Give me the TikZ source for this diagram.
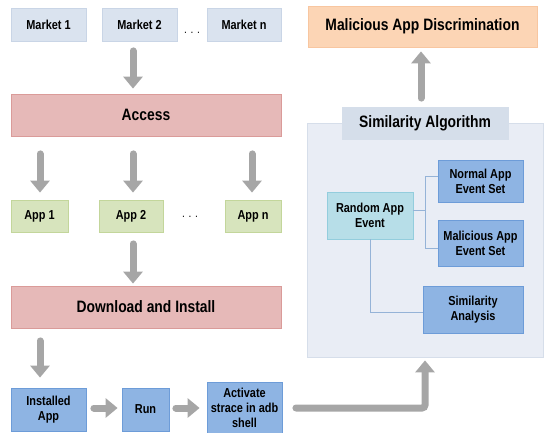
\documentclass[tikz,border=0pt]{standalone}
\usepackage{fontspec}
\setmainfont{Liberation Sans}[FakeStretch=0.84]
\usetikzlibrary{arrows.meta,calc}

\definecolor{mktfill}{HTML}{DAE3EF}
\definecolor{mktline}{HTML}{C9D5E6}
\definecolor{redfill}{HTML}{E6B9B8}
\definecolor{redline}{HTML}{DA9B99}
\definecolor{grnfill}{HTML}{D7E4BD}
\definecolor{grnline}{HTML}{C3D69B}
\definecolor{bluefill}{HTML}{8EB4E3}
\definecolor{blueline}{HTML}{6D9CD8}
\definecolor{cyanfill}{HTML}{B7DEE8}
\definecolor{cyanline}{HTML}{93CDDD}
\definecolor{orgfill}{HTML}{FCD5B5}
\definecolor{orgline}{HTML}{F8C6A0}
\definecolor{panelfill}{HTML}{E9EDF5}
\definecolor{panelline}{HTML}{D6DEEA}
\definecolor{algfill}{HTML}{D5DEEA}
\definecolor{arrowgray}{HTML}{A6A6A6}
\definecolor{connblue}{HTML}{95B3D7}

\begin{document}
\begin{tikzpicture}[x=1pt,y=-1pt,
  base/.style={inner sep=0pt, align=center, line width=0.8pt,
    font=\bfseries\fontsize{13}{15}\selectfont},
  bigtext/.style={font=\bfseries\fontsize{16.5}{19}\selectfont},
  mktbox/.style={base, fill=mktfill, draw=mktline, minimum height=33pt},
  redbox/.style={base, bigtext, fill=redfill, draw=redline, minimum width=270pt, minimum height=42pt},
  appbox/.style={base, fill=grnfill, draw=grnline, minimum height=32pt},
  bluebox/.style={base, fill=bluefill, draw=blueline},
  garrow/.style={draw=arrowgray, line width=7pt, line cap=round,
    -{Triangle[width=19pt,length=12pt]}},
  conn/.style={draw=connblue, line width=1pt},
  dots/.style={inner sep=0pt, font=\fontsize{12}{14}\selectfont}
]
\useasboundingbox (0,0) rectangle (547,432);

% markets
\node[mktbox, minimum width=75pt] (m1) at (48.5,24.5) {Market 1};
\node[mktbox, minimum width=75pt] (m2) at (139.5,24.5) {Market 2};
\node[mktbox, minimum width=74pt] (mn) at (244,24.5) {Market n};
\node[dots] (mdots) at (192,33) {. . .};

% access stage
\node[redbox] (acc) at (146,115) {Access};

% apps
\node[appbox, minimum width=57pt] (app1) at (39.5,216) {App 1};
\node[appbox, minimum width=64pt] (app2) at (131,216) {App 2};
\node[appbox, minimum width=56pt] (appn) at (253,216) {App n};
\node[dots] (adots) at (190,217) {. . .};

% download stage
\node[redbox] (dl) at (146,307) {Download and Install};

% runtime chain
\node[bluebox, minimum width=75pt, minimum height=43pt] (inst) at (48.5,409.5) {Installed\\App};
\node[bluebox, minimum width=47pt, minimum height=43pt] (run) at (145.5,409.5) {Run};
\node[bluebox, minimum width=75pt, minimum height=52pt] (act) at (244.5,408) {Activate\\strace in adb\\shell};

% similarity panel
\node[inner sep=0pt, fill=panelfill, draw=panelline, line width=0.8pt,
  minimum width=236pt, minimum height=234pt] (panel) at (425,240) {};
\node[base, bigtext, fill=algfill, draw=algfill, minimum width=166pt, minimum height=32pt] (sa) at (425,123) {Similarity Algorithm};
\node[base, bigtext, fill=orgfill, draw=orgline, minimum width=229pt, minimum height=41pt] (mad) at (422.5,26.5) {Malicious App Discrimination};

\node[base, fill=cyanfill, draw=cyanline, minimum width=86pt, minimum height=47pt] (rnd) at (370,215.5) {Random App\\Event};
\node[bluebox, minimum width=85pt, minimum height=42pt] (norm) at (480.5,181) {Normal App\\Event Set};
\node[bluebox, minimum width=85pt, minimum height=46pt] (mal) at (480.5,243) {Malicious App\\Event Set};
\node[bluebox, minimum width=100pt, minimum height=47pt] (sim) at (473,309.5) {Similarity\\Analysis};

% tree connectors
\draw[conn] ($(rnd.east)+(0,-5.5)$) -- ++(12,0) coordinate (j);
\draw[conn] ($(norm.west)+(0,-5)$) -| (j) |- ($(mal.west)+(0,5)$);
\draw[conn] (rnd.south) |- ($(sim.west)+(0,2.5)$);

% flow arrows
\draw[garrow] ($(m2.south)+(-6.5,9.5)$) -- ($(acc.north)+(-13,-5)$);
\draw[garrow] ($(app1.north |- acc.south)+(0.5,17.5)$) -- ($(app1.north)+(0.5,-7)$);
\draw[garrow] ($(app2.north |- acc.south)+(2,17.5)$) -- ($(app2.north)+(2,-7)$);
\draw[garrow] ($(appn.north |- acc.south)+(-1,17.5)$) -- ($(appn.north)+(-1,-7)$);
\draw[garrow] ($(app2.south)+(2,11.5)$) -- ($(dl.north)+(-13,-2)$);
\draw[garrow] ($(inst.north |- dl.south)+(-8.5,12.5)$) -- ($(inst.north)+(-8.5,-10)$);
\draw[garrow] ($(inst.east)+(7.5,-1.5)$) -- ($(run.west)+(-4,-1.5)$);
\draw[garrow] ($(run.east)+(6.5,-1.5)$) -- ($(act.west)+(-7,0)$);
\draw[garrow, rounded corners=3pt] ($(act.east)+(13.5,0)$) -| ($(panel.south)+(0,3)$);
\draw[garrow] ($(sa.north)+(-4,-8.5)$) -- ($(mad.south)+(-1.5,4)$);
\end{tikzpicture}
\end{document}
